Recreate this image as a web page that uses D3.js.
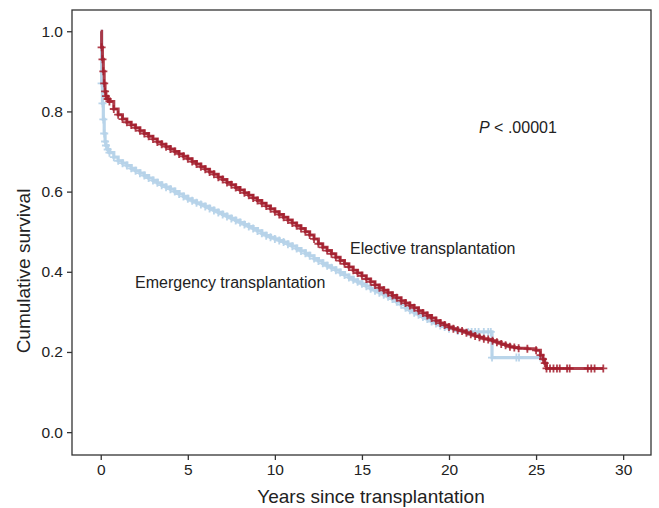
<!DOCTYPE html>
<html><head><meta charset="utf-8">
<script src="https://cdn.jsdelivr.net/npm/d3@7"></script>
<style>body{margin:0;background:#fff}svg{display:block}text{font-family:"Liberation Sans",Arial,sans-serif;fill:#222}</style>
</head><body>
<svg id="c" width="659" height="508"></svg>
<script>
// ---- data ----
const xTicks = [0, 5, 10, 15, 20, 25, 30];
const yTicks = [0.0, 0.2, 0.4, 0.6, 0.8, 1.0];

const electiveTime = [0,0.05,0.1,0.15,0.2,0.25,0.3,0.4,0.5,0.75,1,1.25,1.5,1.75,2,2.25,2.5,2.75,3,3.25,3.5,3.75,4,4.25,4.5,4.75,5,5.25,5.5,5.75,6,6.25,6.5,6.75,7,7.25,7.5,7.75,8,8.25,8.5,8.75,9,9.25,9.5,9.75,10,10.25,10.5,10.75,11,11.25,11.5,11.75,12,12.25,12.5,12.75,13,13.25,13.5,13.75,14,14.25,14.5,14.75,15,15.25,15.5,15.75,16,16.25,16.5,16.75,17,17.25,17.5,17.75,18,18.25,18.5,18.75,19,19.25,19.5,19.75,20,20.25,20.5,20.75,21,21.25,21.5,21.75,22,22.25,22.5,22.75,23,23.25,23.5,23.75,24,24.5,25,25.25,25.4,25.5,25.6,25.8,26.0,26.2,26.36,26.78,26.93,27.97,28.17,28.36,28.86];
const electiveSurv = [1.0,0.96,0.93,0.90,0.87,0.85,0.838,0.831,0.825,0.806,0.792,0.781,0.773,0.766,0.759,0.752,0.745,0.738,0.731,0.724,0.718,0.712,0.706,0.700,0.694,0.688,0.682,0.675,0.669,0.662,0.656,0.649,0.643,0.636,0.630,0.623,0.617,0.610,0.604,0.597,0.591,0.584,0.578,0.571,0.564,0.557,0.550,0.543,0.536,0.529,0.522,0.515,0.508,0.500,0.492,0.482,0.470,0.461,0.453,0.445,0.436,0.428,0.420,0.412,0.404,0.397,0.390,0.382,0.375,0.367,0.360,0.354,0.348,0.341,0.335,0.328,0.322,0.316,0.310,0.303,0.297,0.291,0.285,0.278,0.272,0.267,0.262,0.258,0.255,0.252,0.248,0.244,0.240,0.237,0.233,0.231,0.228,0.224,0.220,0.217,0.213,0.211,0.209,0.208,0.204,0.192,0.182,0.172,0.159,0.159,0.159,0.159,0.159,0.159,0.159,0.159,0.159,0.159,0.159];

const emergencyTime = [0,0.05,0.1,0.15,0.2,0.25,0.3,0.4,0.5,0.75,1,1.25,1.5,1.75,2,2.25,2.5,2.75,3,3.25,3.5,3.75,4,4.25,4.5,4.75,5,5.25,5.5,5.75,6,6.25,6.5,6.75,7,7.25,7.5,7.75,8,8.25,8.5,8.75,9,9.25,9.5,9.75,10,10.25,10.5,10.75,11,11.25,11.5,11.75,12,12.25,12.5,12.75,13,13.25,13.5,13.75,14,14.25,14.5,14.75,15,15.25,15.5,15.75,16,16.25,16.5,16.75,17,17.25,17.5,17.75,18,18.25,18.5,18.75,19,19.25,19.5,19.75,20,20.5,21.1,21.3,21.5,21.7,22.0,22.25,22.4,22.47,23.87,24.02,25.25];
const emergencySurv = [1.0,0.87,0.82,0.78,0.745,0.725,0.715,0.705,0.697,0.686,0.677,0.671,0.665,0.658,0.652,0.646,0.640,0.634,0.628,0.622,0.616,0.611,0.606,0.600,0.594,0.588,0.582,0.577,0.572,0.568,0.563,0.558,0.553,0.548,0.543,0.538,0.533,0.528,0.523,0.518,0.513,0.508,0.502,0.496,0.490,0.486,0.482,0.478,0.474,0.469,0.464,0.458,0.452,0.446,0.440,0.433,0.427,0.421,0.415,0.410,0.404,0.398,0.392,0.386,0.380,0.375,0.370,0.364,0.358,0.353,0.348,0.343,0.338,0.332,0.325,0.318,0.310,0.304,0.298,0.293,0.287,0.282,0.276,0.271,0.266,0.262,0.258,0.252,0.25,0.25,0.25,0.25,0.25,0.25,0.25,0.186,0.186,0.186,0.186];

// ---- chart ----
const svg = d3.select("#c");
const L = 72, R = 651, T = 10, B = 455;
const x = d3.scaleLinear().domain([-1.65, 31.6]).range([L, R]);
const y = d3.scaleLinear().domain([-0.057, 1.053]).range([B, T]);

svg.append("rect").attr("x", L).attr("y", T).attr("width", R - L).attr("height", B - T)
  .attr("fill", "none").attr("stroke", "#333").attr("stroke-width", 1.3);

const xa = svg.append("g").attr("transform", `translate(0,${B})`)
  .call(d3.axisBottom(x).tickValues(xTicks).tickSize(5).tickPadding(4).tickFormat(d3.format("d")));
const ya = svg.append("g").attr("transform", `translate(${L},0)`)
  .call(d3.axisLeft(y).tickValues(yTicks).tickSize(5).tickPadding(4).tickFormat(d3.format(".1f")));
[xa, ya].forEach(a => {
  a.select(".domain").remove();
  a.selectAll(".tick line").attr("stroke", "#333").attr("stroke-width", 1.3);
  a.selectAll(".tick text").attr("font-size", 15.5).attr("fill", "#222")
    .style("font-family", '"Liberation Sans", Arial, sans-serif');
});

function drawSeries(times, surv, color, op, sw) {
  const pts = times.map((t, i) => [t, surv[i]]);
  const line = d3.line().x(d => x(d[0])).y(d => y(d[1])).curve(d3.curveStepAfter);
  svg.append("path").datum(pts).attr("d", line).attr("fill", "none")
    .attr("stroke", color).attr("stroke-width", sw).attr("opacity", op);
  const s = 4;
  svg.append("g").selectAll("path").data(pts.slice(1)).join("path")
    .attr("d", d => `M${x(d[0]) - s},${y(d[1])}h${2 * s}M${x(d[0])},${y(d[1]) - s}v${2 * s}`)
    .attr("stroke", color).attr("stroke-width", 1.8).attr("fill", "none").attr("opacity", op);
}
drawSeries(emergencyTime, emergencySurv, "#b6d3e9", 0.95, 3.2);
drawSeries(electiveTime, electiveSurv, "#a31d2d", 0.85, 3);

svg.append("text").attr("x", 350).attr("y", 254).attr("font-size", 16).text("Elective transplantation");
svg.append("text").attr("x", 135).attr("y", 288).attr("font-size", 16).text("Emergency transplantation");
const p = svg.append("text").attr("x", 479).attr("y", 133).attr("font-size", 16);
p.append("tspan").attr("font-style", "italic").text("P");
p.append("tspan").text(" < .00001");

svg.append("text").attr("x", 371).attr("y", 503).attr("font-size", 19).attr("text-anchor", "middle")
  .text("Years since transplantation");
svg.append("text").attr("transform", "translate(30,271) rotate(-90)").attr("font-size", 19)
  .attr("text-anchor", "middle").text("Cumulative survival");
</script>
</body></html>
